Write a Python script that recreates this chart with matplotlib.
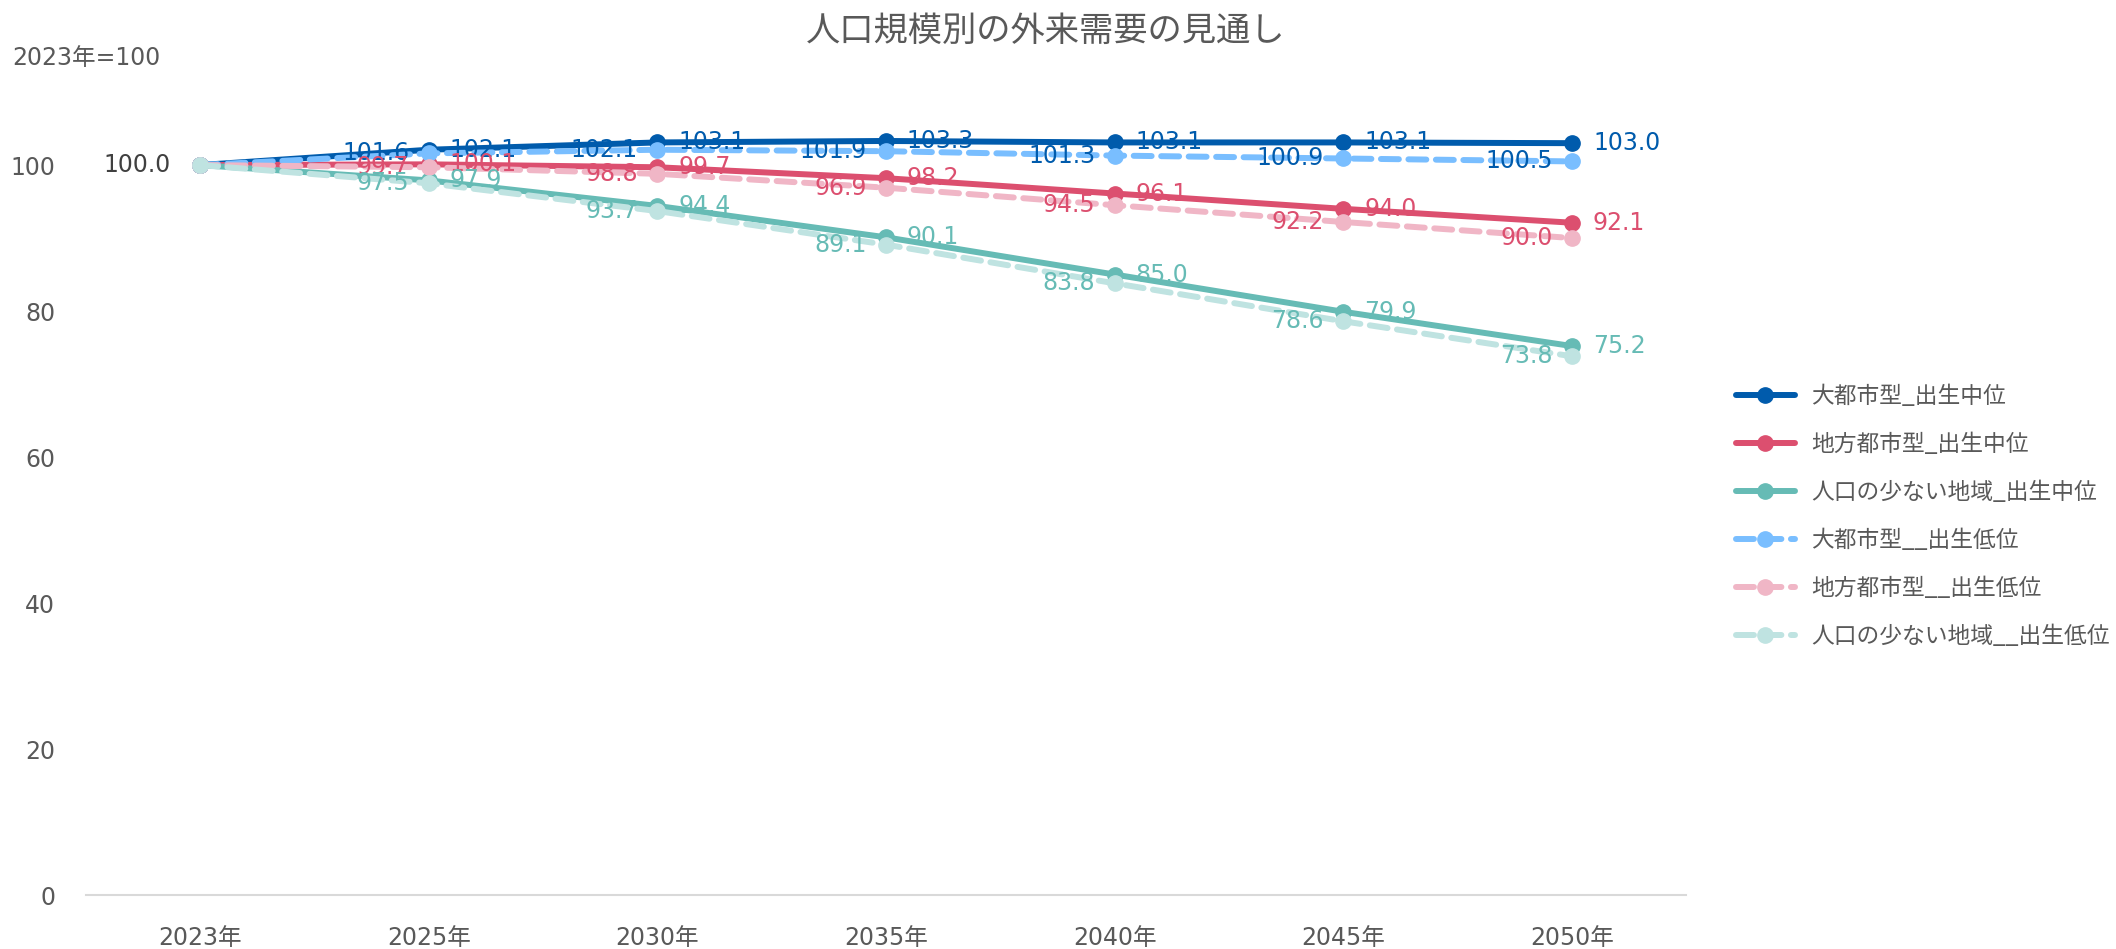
import numpy as np
import matplotlib.pyplot as plt

plt.rcParams['font.family'] = ['DejaVu Sans', 'Noto Sans CJK JP']
cjk = ['Noto Sans CJK JP', 'DejaVu Sans']

# data (2023 = 100)
years = ['2023年', '2025年', '2030年', '2035年', '2040年', '2045年', '2050年']
metro_mid = [100.0, 102.1, 103.1, 103.3, 103.1, 103.1, 103.0]
local_mid = [100.0, 100.1, 99.7, 98.2, 96.1, 94.0, 92.1]
rural_mid = [100.0, 97.9, 94.4, 90.1, 85.0, 79.9, 75.2]
metro_low = [100.0, 101.6, 102.1, 101.9, 101.3, 100.9, 100.5]
local_low = [100.0, 99.7, 98.8, 96.9, 94.5, 92.2, 90.0]
rural_low = [100.0, 97.5, 93.7, 89.1, 83.8, 78.6, 73.8]

names = ['大都市型_出生中位', '地方都市型_出生中位', '人口の少ない地域_出生中位',
         '大都市型__出生低位', '地方都市型__出生低位', '人口の少ない地域__出生低位']

blue, red, teal = '#005BAC', '#DC4F6F', '#66BBB5'
lblue, pink, lteal = '#79BEFF', '#F0B6C6', '#BFE3E1'

fig = plt.figure(figsize=(21.16, 9.49), dpi=100)
ax = fig.add_axes([0.0405, 0.0569, 0.7565, 0.923])

x = np.arange(len(years))
series = [
    (metro_mid, blue, blue, '-'),
    (local_mid, red, red, '-'),
    (rural_mid, teal, teal, '-'),
    (metro_low, lblue, blue, '--'),
    (local_low, pink, red, '--'),
    (rural_low, lteal, teal, '--'),
]

for (vals, col, lab_col, ls), name in zip(series, names):
    if ls == '-':
        ax.plot(x, vals, color=col, lw=4.3, marker='o', ms=11,
                solid_capstyle='round', label=name)
    else:
        ax.plot(x, vals, color=col, lw=4.3, marker='o', ms=11,
                dashes=(3, 1.6), dash_capstyle='round', label=name)
    for i in range(1, len(vals)):
        if ls == '-':
            ax.annotate(f'{vals[i]:.1f}', (x[i], vals[i]), xytext=(15, 0),
                        textcoords='offset points', ha='left', va='center',
                        color=lab_col, fontsize=17)
        else:
            ax.annotate(f'{vals[i]:.1f}', (x[i], vals[i]), xytext=(-14, 0),
                        textcoords='offset points', ha='right', va='center',
                        color=lab_col, fontsize=17)

# starting point label
ax.annotate(f'{metro_mid[0]:.1f}', (x[0], metro_mid[0]), xytext=(-21, 0),
            textcoords='offset points', ha='right', va='center',
            color='#404040', fontsize=17)

ax.set_xlim(-0.5, len(years) - 0.5)
ax.set_ylim(0, 120)
ax.set_xticks(x)
ax.set_xticklabels(years)
ax.set_yticks([0, 20, 40, 60, 80, 100])
ax.tick_params(axis='both', length=0, labelsize=17, colors='#595959')
ax.tick_params(axis='x', pad=22)
ax.tick_params(axis='y', pad=22)
for s in ['top', 'right', 'left']:
    ax.spines[s].set_visible(False)
ax.spines['bottom'].set_color('#D9D9D9')
ax.spines['bottom'].set_linewidth(1.5)

fig.text(0.494, 0.967, '人口規模別の外来需要の見通し', ha='center', va='center',
         fontsize=24.7, color='#595959', family=cjk)
fig.text(0.006, 0.939, '2023年=100', ha='left', va='center',
         fontsize=17, color='#595959')

leg = ax.legend(loc='center left', bbox_to_anchor=(1.018, 0.432), frameon=False,
                prop={'family': cjk, 'size': 16.4}, handlelength=2.6,
                labelspacing=1.1, handletextpad=0.7)
for t in leg.get_texts():
    t.set_color('#595959')

fig.savefig('out.png', dpi=100)
